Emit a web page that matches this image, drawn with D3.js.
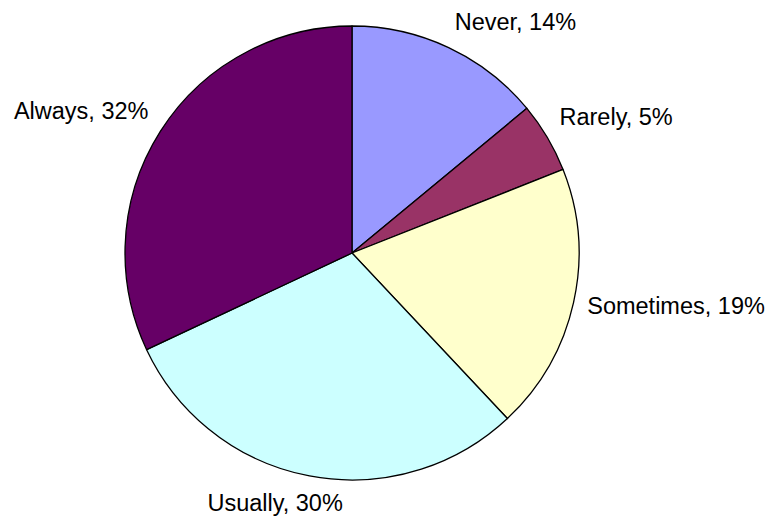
<!DOCTYPE html>
<html>
<head>
<meta charset="utf-8">
<script src="https://cdn.jsdelivr.net/npm/d3@7"></script>
<style>
  html, body { margin: 0; padding: 0; background: #ffffff; }
  svg { display: block; }
  text { font-family: "Liberation Sans", Arial, sans-serif; fill: #000; }
</style>
</head>
<body>
<svg id="chart" width="769" height="521"></svg>
<script>
// Survey answer shares (percent)
const categories = ["Never", "Rarely", "Sometimes", "Usually", "Always"];
const values = [14, 5, 19, 30, 32];
const colors = ["#9999FF", "#993366", "#FFFFCC", "#CCFFFF", "#660066"];

const width = 769, height = 521;
const cx = 352, cy = 253, radius = 227;
const fontSize = 23.5;

const svg = d3.select("#chart");
const g = svg.append("g").attr("transform", `translate(${cx},${cy})`);

const data = categories.map((c, i) => ({ name: c, value: values[i], color: colors[i] }));

// Slices run clockwise from 12 o'clock in category order
const pie = d3.pie().value(d => d.value).sort(null);
const arc = d3.arc().innerRadius(0).outerRadius(radius);
const arcs = pie(data);

g.selectAll("path.slice")
  .data(arcs)
  .join("path")
  .attr("class", "slice")
  .attr("d", arc)
  .attr("fill", d => d.data.color)
  .attr("stroke", "#000")
  .attr("stroke-width", 1.3)
  .attr("stroke-linejoin", "round");

// Labels sit just outside the rim, pushed away from the pie along the slice's mid-angle
const clamp = v => Math.max(-1, Math.min(1, v));
const labelR = radius + 14;
const labels = g.selectAll("text.label")
  .data(arcs)
  .join("text")
  .attr("class", "label")
  .attr("font-size", fontSize)
  .attr("text-anchor", "middle")
  .attr("dominant-baseline", "central")
  .text(d => `${d.data.name}, ${d.data.value}%`);

labels.each(function(d) {
  const a = (d.startAngle + d.endAngle) / 2;
  const s = Math.sin(a), c = Math.cos(a);
  const box = this.getBBox();
  const w = box.width, h = fontSize * 1.1;
  const px = labelR * s, py = -labelR * c;
  // near-horizontal labels stay vertically centred on the anchor point
  const vy = Math.sign(c) * clamp(Math.max(0, Math.abs(c) - 0.25) * 4);
  const x = px + (w / 2) * clamp(2.5 * s);
  const y = py - (h / 2) * vy;
  d3.select(this).attr("x", x).attr("y", y);
});
</script>
</body>
</html>
